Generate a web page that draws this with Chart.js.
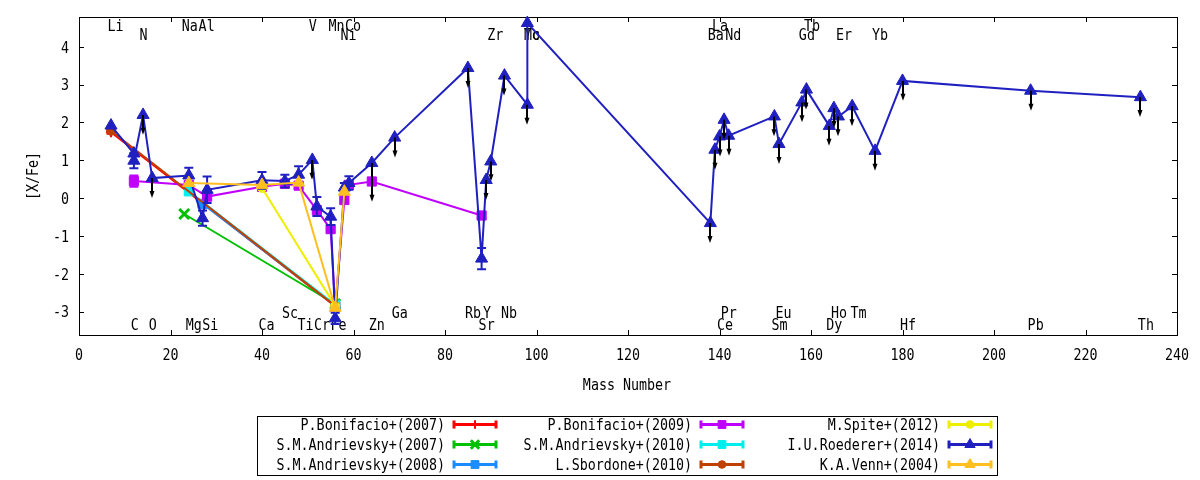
<!DOCTYPE html>
<html><head><meta charset="utf-8">
<script src="https://cdn.jsdelivr.net/npm/chart.js@4/dist/chart.umd.min.js"></script>
<style>html,body{margin:0;padding:0;background:#fff;}#wrap{width:1200px;height:480px;}</style>
</head><body><div id="wrap"><canvas id="c" width="1200" height="480"></canvas></div>
<script>
// ---------- axis ticks ----------
const xTicks = [0, 20, 40, 60, 80, 100, 120, 140, 160, 180, 200, 220, 240];
const yTicks = [-3, -2, -1, 0, 1, 2, 3, 4];
const xTitle = 'Mass Number';
const yTitle = '[X/Fe]';

// ---------- series (mass number, [X/Fe], error) ----------
const bon07Mass = [7, 56];
const bon07Val = [1.74, -2.86];
const bon07Err = [0.04, 0];

const andr07Mass = [23, 56];
const andr07Val = [-0.42, -2.80];
const andr07Err = [0, 0];

const andr08Mass = [27, 56];
const andr08Val = [-0.15, -2.84];
const andr08Err = [0, 0];

const bon09Mass = [12, 24, 28, 40, 45, 48, 52, 55, 56, 58, 59, 64, 88];
const bon09Val = [0.45, 0.35, 0.04, 0.30, 0.38, 0.33, -0.32, -0.82, -2.88, -0.05, 0.35, 0.44, -0.46];
const bon09Err = [0.15, 0, 0.08, 0, 0, 0, 0, 0.05, 0, 0, 0, 0, 0];

const andr10Mass = [24, 56];
const andr10Val = [0.18, -2.82];
const andr10Err = [0, 0];

const sbo10Mass = [7, 56];
const sbo10Val = [1.78, -2.85];
const sbo10Err = [0, 0];

const spi12Mass = [40, 56];
const spi12Val = [0.27, -2.85];
const spi12Err = [0, 0];

const roeMass = [7, 12, 12, 14, 16, 24, 27, 28, 40, 45, 48, 51, 52, 55, 56, 58, 59, 64, 69, 85, 88, 89, 90, 93, 98, 98,
  138, 139, 140, 141, 142, 152, 153, 158, 159, 164, 165, 166, 169, 174, 180, 208, 232];
const roeVal = [1.92, 1.18, 0.99, 2.20, 0.53, 0.60, -0.53, 0.22, 0.47, 0.45, 0.62, 1.01, -0.22, -0.49, -3.18, 0.28, 0.40, 0.93, 1.60, 3.44, -1.60, 0.48, 0.97, 3.24, 2.47, 4.63,
  -0.66, 1.28, 1.63, 2.07, 1.65, 2.16, 1.43, 2.53, 2.87, 1.91, 2.38, 2.16, 2.43, 1.25, 3.10, 2.84, 2.67];
const roeErr = [0, 0, 0.2, 0, 0, 0.2, 0.2, 0.35, 0.22, 0.17, 0.22, 0, 0.25, 0.22, 0.15, 0.12, 0.18, 0, 0, 0, 0.28, 0, 0, 0, 0, 0,
  0, 0, 0, 0, 0, 0, 0, 0, 0, 0, 0, 0, 0, 0, 0, 0, 0];
// upper limits: arrow length in dex (0 = detection)
const roeLimit = [0, 0, 0, 0.5, 0.5, 0, 0, 0, 0, 0, 0, 0.5, 0, 0, 0, 0, 0, 1.0, 0.5, 0.5, 0, 0.5, 0.5, 0.5, 0.5, 0,
  0.5, 0.5, 0.5, 0.5, 0.5, 0.5, 0.5, 0.5, 0.5, 0.5, 0.5, 0.5, 0.5, 0.5, 0.5, 0.5, 0.5];

const venMass = [24, 40, 48, 56, 58];
const venVal = [0.40, 0.35, 0.41, -2.90, 0.17];
const venErr = [0, 0, 0, 0, 0];

// ---------- element labels ----------
const elemNames = ['Li','C','N','O','Na','Mg','Al','Si','Ca','Sc','Ti','V','Cr','Mn','Fe','Ni','Co','Zn','Ga','Rb','Sr','Y','Zr','Nb','Mo','Tc',
  'Ba','La','Ce','Pr','Nd','Sm','Eu','Gd','Tb','Dy','Ho','Er','Tm','Yb','Hf','Pb','Th'];
const elemLabelX = [8.0, 12.2, 14.1, 16.1, 24.2, 25.1, 27.9, 28.7, 41.0, 46.1, 49.5, 51.1, 53.1, 56.3, 56.7, 58.9, 59.9, 65.1, 70.1, 86.1, 89.1, 89.2, 91.0, 94.0, 99.0, 99.0,
  139.2, 140.1, 141.2, 142.0, 143.0, 153.1, 154.0, 159.1, 160.2, 165.1, 166.1, 167.2, 170.4, 175.1, 181.2, 209.1, 233.2];
// label rows expressed in [X/Fe] units
const rowTop1 = 4.567, rowTop2 = 4.324, rowBot1 = -3.024, rowBot2 = -3.333;
const elemLabelY = [rowTop1, rowBot2, rowTop2, rowBot2, rowTop1, rowBot2, rowTop1, rowBot2, rowBot2, rowBot1, rowBot2, rowTop1, rowBot2, rowTop1, rowBot2, rowTop2, rowTop1, rowBot2, rowBot1, rowBot1, rowBot2, rowBot1, rowTop2, rowBot1, rowTop2, rowTop2,
  rowTop2, rowTop1, rowBot2, rowBot1, rowTop2, rowBot2, rowBot1, rowTop2, rowTop1, rowBot2, rowBot1, rowTop2, rowBot1, rowTop2, rowBot2, rowBot2, rowBot2];

// ---------- styles ----------
const series = [
  {label:'P.Bonifacio+(2007)',    mass:bon07Mass,  val:bon07Val,  err:bon07Err,  color:'#ff0000', style:'cross',    r:5,   pbw:2},
  {label:'S.M.Andrievsky+(2007)', mass:andr07Mass, val:andr07Val, err:andr07Err, color:'#00c000', style:'crossRot', r:7,   pbw:3},
  {label:'S.M.Andrievsky+(2008)', mass:andr08Mass, val:andr08Val, err:andr08Err, color:'#1a8cff', style:'rect',     r:6.5, pbw:1},
  {label:'P.Bonifacio+(2009)',    mass:bon09Mass,  val:bon09Val,  err:bon09Err,  color:'#c000ff', style:'rect',     r:6.5, pbw:1},
  {label:'S.M.Andrievsky+(2010)', mass:andr10Mass, val:andr10Val, err:andr10Err, color:'#00eeee', style:'rect',     r:6.5, pbw:1},
  {label:'L.Sbordone+(2010)',     mass:sbo10Mass,  val:sbo10Val,  err:sbo10Err,  color:'#c04000', style:'circle',   r:4.5, pbw:1},
  {label:'M.Spite+(2012)',        mass:spi12Mass,  val:spi12Val,  err:spi12Err,  color:'#eeee00', style:'circle',   r:4.5, pbw:1},
  {label:'I.U.Roederer+(2014)',   mass:roeMass,    val:roeVal,    err:roeErr,    color:'#2020c0', style:'triangle', r:7,   pbw:1},
  {label:'K.A.Venn+(2004)',       mass:venMass,    val:venVal,    err:venErr,    color:'#ffbf20', style:'triangle', r:7,   pbw:1}
];
const ROE = 7;

const FONT = '16px "DejaVu Sans Mono"';
const SX = 0.833;    // condensed look
const CAPH = 5.8;    // half cap height
function txt(ctx, s, x, y, align, rot) {
  ctx.save();
  ctx.translate(x, y);
  if (rot) ctx.rotate(rot);
  ctx.scale(SX, 1);
  ctx.font = FONT; ctx.fillStyle = '#000';
  ctx.textAlign = align; ctx.textBaseline = 'alphabetic';
  ctx.fillText(s, 0, 0);
  ctx.restore();
}

const decor = {
  id: 'decor',
  beforeDatasetsDraw(chart) {
    const ctx = chart.ctx, a = chart.chartArea, xs = chart.scales.x, ys = chart.scales.y;
    ctx.save();
    // element labels
    elemNames.forEach((n, i) => {
      txt(ctx, n, xs.getPixelForValue(elemLabelX[i]), ys.getPixelForValue(elemLabelY[i]) + CAPH, 'center');
    });
    // border
    ctx.strokeStyle = '#000'; ctx.lineWidth = 1;
    ctx.strokeRect(Math.round(a.left) + 0.5, Math.round(a.top) + 0.5, Math.round(a.right - a.left), Math.round(a.bottom - a.top));
    // ticks + labels
    ctx.beginPath();
    xTicks.forEach(v => {
      const px = Math.round(xs.getPixelForValue(v)) + 0.5;
      ctx.moveTo(px, a.bottom); ctx.lineTo(px, a.bottom - 5);
      ctx.moveTo(px, a.top); ctx.lineTo(px, a.top + 5);
    });
    yTicks.forEach(v => {
      const py = Math.round(ys.getPixelForValue(v)) + 0.5;
      ctx.moveTo(a.left, py); ctx.lineTo(a.left + 5, py);
      ctx.moveTo(a.right, py); ctx.lineTo(a.right - 5, py);
    });
    ctx.stroke();
    xTicks.forEach(v => txt(ctx, String(v), xs.getPixelForValue(v), a.bottom + 25, 'center'));
    yTicks.forEach(v => txt(ctx, String(v), a.left - 10, ys.getPixelForValue(v) + CAPH, 'right'));
    // axis titles
    txt(ctx, xTitle, (a.left + a.right) / 2 - 1, 390, 'center');
    txt(ctx, yTitle, 37.5, (a.top + a.bottom) / 2, 'center', -Math.PI / 2);
    ctx.restore();
  },
  beforeDatasetDraw(chart, args) {
    const s = series[args.index]; if (!s) return;
    const ctx = chart.ctx, xs = chart.scales.x, ys = chart.scales.y;
    ctx.save(); ctx.strokeStyle = s.color; ctx.lineWidth = 2;
    ctx.beginPath();
    s.err.forEach((e, j) => {
      if (!e) return;
      const px = xs.getPixelForValue(s.mass[j]);
      const y1 = ys.getPixelForValue(s.val[j] + e), y2 = ys.getPixelForValue(s.val[j] - e);
      ctx.moveTo(px, y1); ctx.lineTo(px, y2);
      ctx.moveTo(px - 4.5, y1); ctx.lineTo(px + 4.5, y1);
      ctx.moveTo(px - 4.5, y2); ctx.lineTo(px + 4.5, y2);
    });
    ctx.stroke(); ctx.restore();
  },
  afterDatasetDraw(chart, args) {
    if (args.index !== ROE) return;
    const ctx = chart.ctx, xs = chart.scales.x, ys = chart.scales.y;
    ctx.save(); ctx.strokeStyle = '#000'; ctx.fillStyle = '#000'; ctx.lineWidth = 2;
    roeLimit.forEach((L, j) => {
      if (!L) return;
      const px = Math.round(xs.getPixelForValue(roeMass[j]));
      const p0 = ys.getPixelForValue(roeVal[j]), p1 = ys.getPixelForValue(roeVal[j] - L);
      ctx.beginPath(); ctx.moveTo(px, p0); ctx.lineTo(px, p1 - 4); ctx.stroke();
      ctx.beginPath(); ctx.moveTo(px - 2.5, p1 - 6); ctx.lineTo(px + 2.5, p1 - 6); ctx.lineTo(px, p1 + 1); ctx.closePath(); ctx.fill();
    });
    ctx.restore();
  },
  afterDraw(chart) {
    const ctx = chart.ctx;
    ctx.save();
    ctx.strokeStyle = '#000'; ctx.lineWidth = 1;
    ctx.strokeRect(257.5, 416.5, 740, 59);
    const colSample = [453, 700, 948], rowY = [424.5, 444.5, 464.5], sw = 44;
    series.forEach((s, i) => {
      const c = Math.floor(i / 3), r = i % 3;
      const x0 = colSample[c], y = rowY[r];
      txt(ctx, s.label, x0 - 8, y + CAPH, 'right');
      ctx.strokeStyle = s.color; ctx.fillStyle = s.color; ctx.lineWidth = 3;
      ctx.beginPath();
      ctx.moveTo(x0, y); ctx.lineTo(x0 + sw, y);
      ctx.moveTo(x0 + 1, y - 4); ctx.lineTo(x0 + 1, y + 4);
      ctx.moveTo(x0 + sw - 1, y - 4); ctx.lineTo(x0 + sw - 1, y + 4);
      ctx.stroke();
      ctx.lineWidth = s.pbw;
      Chart.helpers.drawPoint(ctx, {pointStyle: s.style, radius: s.r * 0.85, borderWidth: s.pbw, rotation: 0}, x0 + sw / 2, y);
    });
    ctx.restore();
  }
};

new Chart(document.getElementById('c'), {
  type: 'scatter',
  data: {
    datasets: series.map((s, i) => ({
      label: s.label,
      data: s.mass.map((m, j) => ({x: m, y: s.val[j]})),
      showLine: true,
      borderColor: s.color,
      backgroundColor: s.color,
      borderWidth: 2,
      pointStyle: s.style,
      pointRadius: s.r,
      pointHoverRadius: s.r,
      pointBorderWidth: s.pbw,
      pointBackgroundColor: s.color,
      pointBorderColor: s.color,
      tension: 0,
      clip: false,
      order: series.length - 1 - i
    }))
  },
  options: {
    responsive: false,
    animation: false,
    devicePixelRatio: 1,
    events: [],
    layout: {padding: {left: 79, right: 23, top: 17, bottom: 145}},
    plugins: {legend: {display: false}, tooltip: {enabled: false}},
    scales: {
      x: {type: 'linear', min: 0, max: 240, display: false},
      y: {type: 'linear', min: -3.62, max: 4.79, display: false}
    }
  },
  plugins: [decor]
});
</script></body></html>
